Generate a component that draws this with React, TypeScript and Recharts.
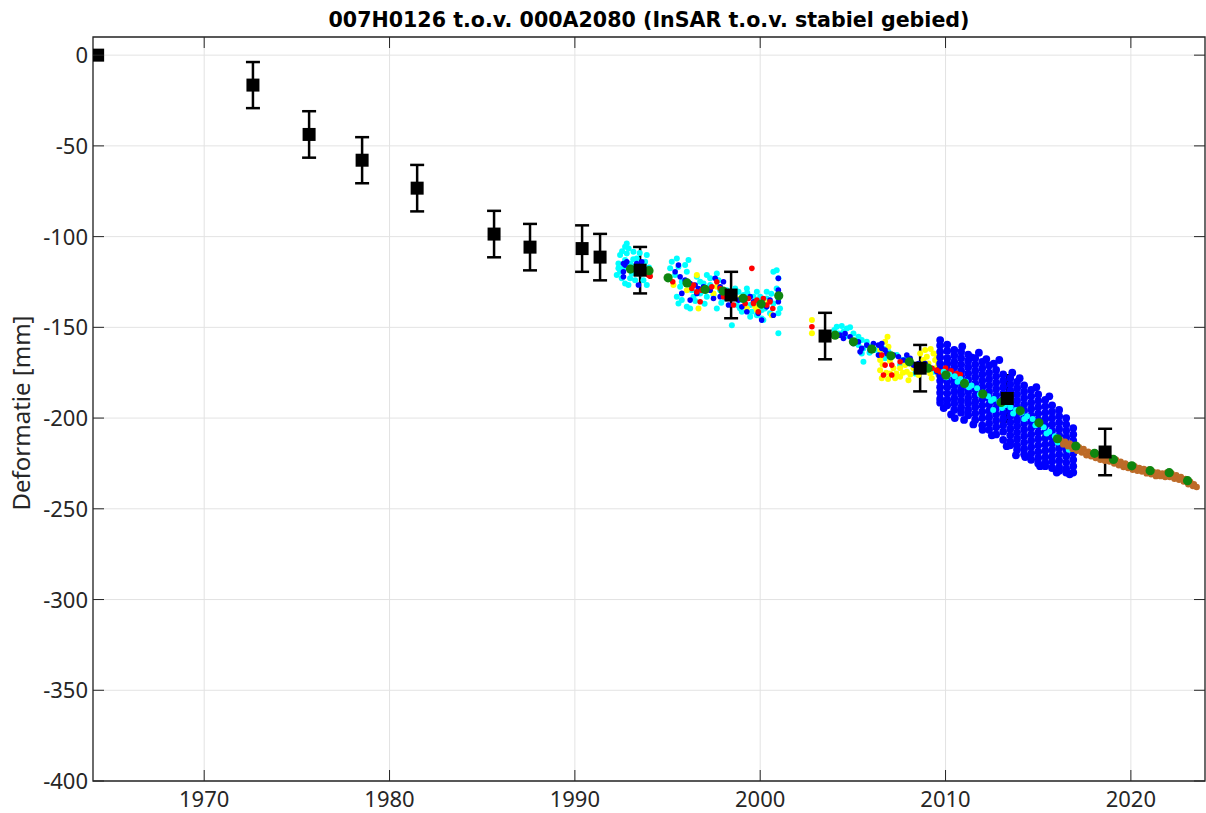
import { ScatterChart, Scatter, XAxis, YAxis, CartesianGrid, ErrorBar, ReferenceArea } from 'recharts';

// leveling (waterpassing) measurements
const levelYears = [1964.25, 1972.63, 1975.66, 1978.52, 1981.49, 1985.64, 1987.58, 1990.39, 1991.36, 1993.52, 1998.43, 2003.5, 2008.63, 2013.33, 2018.61];
const levelMm = [0, -16.5, -43.7, -57.9, -73.3, -98.6, -105.8, -106.6, -111.3, -118.5, -132.2, -154.8, -172.5, -189.2, -218.7];
const levelErr = [0, 12.7, 12.8, 12.7, 12.8, 12.8, 12.8, 12.8, 12.8, 12.8, 12.8, 12.8, 12.8, 12.8, 12.8];

// yearly InSAR averages
const greenYears = [1993.0, 1994.0, 1995.03, 1996.05, 1997.03, 1998.0, 1999.08, 2000.05, 2001.0, 2004.04, 2005.03, 2006.02, 2007.05, 2008.05, 2009.05, 2010.02, 2011.02, 2012.01, 2013.0, 2014.03, 2015.04, 2016.04, 2017.03, 2018.04, 2019.06, 2020.05, 2021.04, 2022.07, 2023.06];
const greenMm = [-117.9, -118.8, -122.7, -125.5, -129.1, -130.0, -134.0, -137.2, -132.6, -154.3, -158.0, -162.0, -165.7, -169.0, -172.5, -176.3, -180.9, -186.8, -191.4, -196.0, -202.6, -211.4, -215.4, -219.4, -222.8, -226.3, -229.0, -230.1, -234.5];

const cyanEarly: [number, number][] = [
  [1992.71, -105.6], [1992.44, -110.2], [1992.8, -109.3], [1993.16, -108.4], [1992.35, -114.8], [1992.71, -112.9],
  [1992.44, -119.4], [1992.53, -123.0], [1992.71, -125.8], [1992.98, -123.0], [1992.89, -126.7], [1993.25, -124.0],
  [1993.61, -120.3], [1993.79, -113.9], [1993.88, -126.7], [1993.88, -110.2], [1993.34, -112.0], [1992.62, -117.5],
  [1993.07, -120.3], [1992.26, -121.2], [1993.7, -124.0], [1993.0, -115.0], [1992.9, -106.5], [1993.5, -109.0],
  [1994.0, -117.0], [1992.55, -108.0], [1992.8, -103.8], [1993.15, -112.5], [1992.35, -117.5], [1993.2, -116.5],
  [1995.23, -113.9], [1995.5, -112.0], [1995.59, -116.6], [1996.13, -112.9], [1996.04, -119.4], [1995.41, -121.2],
  [1995.77, -124.9], [1996.22, -126.7], [1996.58, -122.1], [1997.12, -121.2], [1996.94, -125.8], [1997.3, -123.0],
  [1997.66, -120.3], [1997.75, -124.0], [1997.84, -129.5], [1997.48, -132.2], [1997.12, -133.1], [1996.76, -131.3],
  [1996.31, -129.5], [1996.4, -133.1], [1995.77, -135.0], [1995.59, -136.8], [1996.04, -138.7], [1996.22, -139.6],
  [1997.66, -139.6], [1998.11, -134.1], [1998.65, -128.6], [1998.83, -130.4], [1999.01, -135.0], [1999.28, -128.6],
  [1999.46, -137.7], [1999.82, -130.4], [1999.9, -135.9], [2000.35, -130.4], [2000.26, -139.6], [2000.53, -142.3],
  [2000.71, -119.4], [2000.89, -118.5], [2000.98, -123.0], [2000.89, -128.6], [2000.98, -134.1], [2000.98, -142.3],
  [2001.07, -139.6], [2000.17, -146.0], [2000.08, -145.1], [1998.47, -148.8], [2000.98, -153.3], [1999.46, -144.2],
  [1999.82, -143.3], [1999.01, -141.4], [1996.76, -124.9], [1997.3, -126.7], [1998.2, -129.5], [1998.38, -132.2],
  [1998.74, -137.7], [1999.1, -132.2], [1999.64, -133.1], [2000.0, -133.1], [2000.35, -134.1], [2000.71, -136.8],
  [2000.08, -140.5], [1999.55, -141.4], [1995.95, -115.7], [1995.14, -117.5], [1995.68, -127.6], [1995.5, -133.1],
  [1996.5, -135.5], [1997.0, -137.0], [1997.9, -136.5], [1998.9, -139.5], [1999.3, -131.0], [2000.6, -131.5],
  [2004.13, -149.7], [2004.4, -149.3], [2004.67, -150.6], [2004.85, -150.0], [2004.49, -152.4], [2004.22, -153.4],
  [2005.03, -153.4], [2005.3, -155.2], [2005.48, -157.0], [2005.75, -157.9], [2005.3, -159.8], [2005.57, -161.6],
  [2005.48, -164.4], [2005.57, -169.0], [2005.93, -160.7], [2006.2, -162.5], [2006.47, -164.4], [2006.65, -161.6],
  [2006.92, -163.5], [2007.1, -166.2], [2007.37, -165.3], [2007.64, -168.0], [2007.91, -167.1], [2008.18, -169.9],
  [2008.45, -170.8], [2008.36, -175.4], [2008.99, -171.7], [2009.35, -174.5], [2009.71, -172.6], [2009.89, -175.4],
  [2007.55, -170.8], [2006.74, -167.1], [2004.0, -151.5], [2004.6, -155.0], [2005.15, -157.5], [2005.9, -164.0],
];

const yellowPts: [number, number][] = [
  [1995.32, -126.7], [1996.04, -129.5], [1996.58, -121.2], [1996.67, -139.6], [1997.48, -131.3], [1997.66, -127.6],
  [1998.92, -134.1], [1999.28, -139.6], [1999.73, -138.7], [2000.08, -136.8], [2000.62, -143.3], [1999.82, -140.5],
  [2000.44, -135.9], [2002.79, -146.0], [2002.79, -153.3],
  [2006.47, -162.5], [2006.47, -168.0], [2006.47, -173.6], [2006.56, -178.1], [2006.74, -157.9], [2006.87, -155.2],
  [2006.92, -160.7], [2007.01, -175.4], [2007.19, -172.6], [2007.28, -178.1], [2007.55, -172.6], [2007.55, -177.2],
  [2007.82, -170.8], [2007.91, -174.5], [2008.0, -179.1], [2008.27, -172.6], [2008.54, -176.3], [2008.99, -166.2],
  [2009.08, -169.9], [2009.17, -175.4], [2009.35, -164.4], [2009.44, -168.0], [2009.44, -172.6], [2009.26, -178.1],
  [2008.81, -168.0], [2008.63, -164.4], [2008.9, -162.5], [2006.6, -170.5], [2006.8, -175.0], [2007.0, -168.5],
  [2009.55, -166.0], [2009.6, -176.0], [2006.5, -165.5], [2006.9, -178.5], [2007.35, -175.5], [2007.7, -175.0],
  [2008.1, -176.0], [2008.75, -173.0], [2009.2, -162.0], [2009.6, -170.0],
];

const blueEarly: [number, number][] = [
  [1992.71, -115.7], [1992.62, -119.4], [1992.62, -122.1], [1992.8, -113.9], [1993.34, -114.8], [1993.43, -126.7],
  [1993.61, -113.9], [1992.62, -114.8],
  [1995.59, -115.7], [1995.41, -119.4], [1995.68, -122.1], [1995.95, -124.0], [1996.49, -126.7], [1996.22, -125.8],
  [1996.67, -128.6], [1996.58, -131.3], [1995.77, -131.3], [1996.22, -135.0], [1996.94, -127.6], [1997.3, -129.5],
  [1997.57, -123.0], [1997.84, -127.6], [1998.02, -124.9], [1997.48, -134.1], [1998.2, -134.1], [1998.29, -137.7],
  [1998.83, -135.0], [1999.01, -138.7], [1999.28, -141.4], [1999.46, -133.1], [1999.64, -135.9], [1999.9, -142.3],
  [2000.08, -146.0], [2000.35, -138.7], [2000.53, -135.0], [2000.71, -143.3], [2000.98, -129.5], [2000.98, -135.9],
  [2000.98, -123.0], [1997.84, -133.1],
  [2004.31, -154.3], [2004.58, -153.4], [2004.85, -155.2], [2004.49, -156.1], [2005.03, -158.9], [2005.3, -157.9],
  [2005.48, -161.6], [2005.75, -159.8], [2005.93, -162.5], [2006.11, -158.9], [2006.38, -159.8], [2006.56, -161.6],
  [2006.74, -162.5], [2006.38, -165.3], [2006.56, -158.9], [2006.83, -164.4], [2007.19, -165.3], [2007.46, -166.2],
  [2007.73, -168.0], [2007.91, -165.3], [2008.09, -167.1], [2008.27, -170.8], [2008.54, -169.9], [2008.9, -169.9],
  [2009.26, -172.6], [2009.53, -174.5], [2005.39, -163.5],
];

// dense Sentinel-era blue cloud, read column by column
const blueLateCols: [number, number[]][] = [
  [2009.71, [-157, -160, -163.5, -166.5, -170, -173, -176.5, -179.5, -183, -186, -189.5, -191.5]],
  [2010.09, [-159.5, -163, -167, -170, -173.5, -177, -180, -183, -186.5, -190, -193]],
  [2010.47, [-162.5, -165.5, -169, -172, -175.5, -179, -182, -185.5, -189, -192, -195.5]],
  [2010.84, [-163.5, -167, -170.5, -174, -177, -180.5, -184, -187, -190.5, -194, -197]],
  [2011.22, [-165, -168.5, -172, -175.5, -179, -182, -185.5, -189, -192, -195.5, -198.5]],
  [2011.6, [-167, -170.5, -174, -177.5, -181, -184, -187.5, -191, -194, -197.5, -201]],
  [2011.98, [-169, -172.5, -176, -179.5, -183, -186, -189.5, -193, -196.5, -200, -204]],
  [2012.35, [-171, -175, -178.5, -182, -185.5, -189, -192.5, -196, -199.5, -203, -206.5]],
  [2012.73, [-173.5, -177, -180.5, -184, -187.5, -191, -194.5, -198, -201.5, -205, -209]],
  [2013.11, [-176, -179.5, -183, -186.5, -190, -193.5, -197, -200.5, -204, -207.5, -212]],
  [2013.49, [-178, -181.5, -185, -188.5, -192, -195.5, -199, -202.5, -206, -209.5, -213, -215]],
  [2013.86, [-180, -183.5, -187, -190.5, -194, -197.5, -201, -204.5, -208, -211.5, -215, -217.5]],
  [2014.24, [-182, -185.5, -189, -192.5, -196, -199.5, -203, -206.5, -210, -213.5, -217, -220]],
  [2014.62, [-184.5, -188, -191.5, -195, -198.5, -202, -205.5, -209, -212.5, -216, -219.5, -223]],
  [2015.0, [-187, -190.5, -194, -197.5, -201, -204.5, -208, -211.5, -215, -218.5, -222, -225]],
  [2015.38, [-190, -193.5, -197, -200.5, -204, -207.5, -211, -214.5, -218, -221.5, -224.5, -226.5]],
  [2015.75, [-193, -196.5, -200, -203.5, -207, -210.5, -214, -217.5, -221, -224, -227.5]],
  [2016.13, [-195.5, -199, -202.5, -206, -209.5, -213, -216.5, -220, -223.5, -227, -229]],
  [2016.51, [-200, -203.5, -207, -210.5, -214, -217.5, -221, -224.5, -228, -230]],
  [2016.89, [-205.5, -209, -212.5, -216, -219.5, -223, -226.5, -230]],
];
const blueLateExtra: [number, number][] = [
  [2010.5, -200], [2010.3, -198], [2011.4, -166.5], [2012.2, -167.5], [2012.9, -168], [2013.6, -175],
  [2011.0, -201], [2012.0, -206.5], [2013.3, -215.5], [2014.3, -221.5], [2015.1, -226.5], [2016.0, -230],
  [2010.9, -160.5], [2011.8, -164], [2012.6, -170], [2014.0, -178], [2014.9, -183], [2015.6, -188],
  [2009.9, -194.5], [2011.5, -203.5], [2012.5, -209.5], [2013.8, -220.5], [2016.7, -231],
];

const redPts: [number, number][] = [
  [1993.97, -121.2], [1994.06, -121.8],
  [1995.28, -124.9], [1996.31, -128.6], [1996.4, -126.7], [1996.58, -130.4], [1996.76, -135.9], [1997.39, -127.6],
  [1997.66, -124.9], [1997.84, -128.6], [1998.02, -133.1], [1999.19, -136.8], [1999.37, -134.1], [1999.64, -136.8],
  [1999.82, -135.0], [2000.17, -134.1], [2000.53, -135.9], [2000.68, -139.6], [2000.35, -137.7], [1999.55, -117.5],
  [1996.85, -129.5], [1998.56, -137.7], [1999.9, -141.4],
  [2002.79, -149.7],
  [2006.56, -165.3], [2006.74, -170.8], [2006.65, -176.3], [2007.1, -170.8], [2007.1, -176.3], [2007.55, -169.0],
  [2009.26, -172.6], [2009.53, -173.6], [2009.71, -174.5], [2010.0, -172.5], [2010.3, -174.0], [2010.6, -175.5], [2010.8, -176.0],
];

const cyanLate: [number, number][] = [
  [2009.9, -174.5], [2010.2, -176], [2010.5, -177], [2010.8, -178.5], [2011.1, -180], [2011.4, -182], [2011.7, -183.5],
  [2012.0, -186], [2012.3, -188], [2012.6, -189.5], [2012.9, -191], [2013.2, -193], [2013.5, -194], [2013.8, -195.5],
  [2014.1, -197], [2014.4, -199], [2014.7, -200.5], [2015.0, -203], [2015.3, -205], [2015.6, -207.5], [2015.9, -210],
  [2016.2, -212], [2016.5, -214], [2016.8, -216],
  [2010.05, -177.5], [2010.65, -180], [2011.25, -183], [2011.85, -187], [2012.45, -190.5], [2013.05, -194.5],
  [2013.65, -197.5], [2014.25, -200.5], [2014.85, -204], [2015.45, -208.5], [2016.05, -213.5], [2016.65, -217.5],
  [2012.57, -195.6],
];

const brownPts: [number, number][] = [
  [2016.2, -212], [2016.45, -213], [2016.7, -214], [2016.95, -215], [2017.2, -216], [2017.45, -217], [2017.7, -218.5],
  [2017.95, -219.5], [2018.2, -220], [2018.45, -220.5], [2018.7, -221.5], [2018.95, -222], [2019.2, -223], [2019.45, -224],
  [2019.7, -225], [2019.95, -226], [2020.2, -226.5], [2020.45, -227.5], [2020.7, -228], [2020.95, -228.5], [2021.2, -229.5],
  [2021.45, -230], [2021.7, -230.5], [2021.95, -230], [2022.2, -230.5], [2022.45, -231.5], [2022.7, -232.5],
  [2022.95, -233.5], [2023.2, -235], [2023.4, -236.5], [2023.55, -238],
  [2016.35, -214.5], [2016.6, -215.5], [2016.85, -217], [2017.1, -218], [2017.35, -219], [2017.6, -220.5],
  [2017.85, -221], [2018.1, -222], [2018.35, -223], [2018.6, -223.5], [2018.85, -224], [2019.1, -225], [2019.35, -226],
  [2019.6, -227], [2019.85, -227.5], [2020.1, -228.5], [2020.35, -229], [2020.6, -229.5], [2020.85, -230.5],
  [2021.1, -231], [2021.35, -232], [2021.6, -232], [2021.85, -232.5], [2022.1, -232.5], [2022.35, -233.5],
  [2022.6, -234], [2022.85, -235], [2023.1, -236.5], [2023.35, -237.5],
];

const xTicks = [1970, 1980, 1990, 2000, 2010, 2020];
const yTicks = [-400, -350, -300, -250, -200, -150, -100, -50, 0];

const AXIS = '#262626';
const PLOT = { left: 93, right: 1205, top: 37, bottom: 781 };
const TICK_LEN = 11;
const FONT = '"Noto Sans", sans-serif';

const toXY = (pts: [number, number][]) => pts.map(([x, y]) => ({ x, y }));
const levelData = levelYears.map((x, i) => ({ x, y: levelMm[i], err: levelErr[i] }));
const greenData = greenYears.map((x, i) => ({ x, y: greenMm[i] }));
const blueLateData = [
  ...blueLateCols.flatMap(([x, ys]) => ys.map((y) => ({ x, y }))),
  ...toXY(blueLateExtra),
];

const dot = (r: number, fill: string) => (p: any) => <circle cx={p.cx} cy={p.cy} r={r} fill={fill} />;
const square = (p: any) => <rect x={p.cx - 6.5} y={p.cy - 6.5} width={13} height={13} fill="#000" />;

const XTick = (p: any) => (
  <g>
    <line x1={p.x} x2={p.x} y1={PLOT.bottom} y2={PLOT.bottom - TICK_LEN} stroke={AXIS} />
    <line x1={p.x} x2={p.x} y1={PLOT.top} y2={PLOT.top + TICK_LEN} stroke={AXIS} />
    <text x={p.x} y={807} textAnchor="middle" fill={AXIS} fontSize={22} fontFamily={FONT}>
      {p.payload.value}
    </text>
  </g>
);

const YTick = (p: any) => (
  <g>
    <line x1={PLOT.left} x2={PLOT.left + TICK_LEN} y1={p.y} y2={p.y} stroke={AXIS} />
    <line x1={PLOT.right} x2={PLOT.right - TICK_LEN} y1={p.y} y2={p.y} stroke={AXIS} />
    <text x={88} y={p.y + 8} textAnchor="end" fill={AXIS} fontSize={22} fontFamily={FONT}>
      {p.payload.value}
    </text>
  </g>
);

export default function App() {
  return (
    <div style={{ position: 'absolute', left: 0, top: 0, width: 1206, height: 813, background: '#fff' }}>
      <ScatterChart width={1206} height={813} margin={{ top: 37, right: 1, bottom: 0, left: 0 }}>
        <CartesianGrid stroke="#e3e3e3" strokeWidth={1} />
        <XAxis
          type="number"
          dataKey="x"
          domain={[1964, 2024]}
          ticks={xTicks}
          interval={0}
          height={32}
          allowDataOverflow
          axisLine={false}
          tickLine={false}
          tick={XTick}
        />
        <YAxis
          type="number"
          dataKey="y"
          domain={[-400, 10]}
          ticks={yTicks}
          interval={0}
          width={93}
          allowDataOverflow
          axisLine={false}
          tickLine={false}
          tick={YTick}
        />
        <ReferenceArea x1={1964} x2={2024} y1={-400} y2={10} fill="none" fillOpacity={0} stroke={AXIS} strokeWidth={1.3} />
        <Scatter data={toXY(cyanEarly)} shape={dot(3, '#00ffff')} isAnimationActive={false} />
        <Scatter data={toXY(yellowPts)} shape={dot(3, '#ffff00')} isAnimationActive={false} />
        <Scatter data={toXY(blueEarly)} shape={dot(2.8, '#0000ff')} isAnimationActive={false} />
        <Scatter data={blueLateData} shape={dot(3.9, '#0000ff')} isAnimationActive={false} />
        <Scatter data={toXY(redPts)} shape={dot(2.8, '#ff0000')} isAnimationActive={false} />
        <Scatter data={toXY(cyanLate)} shape={dot(3, '#00ffff')} isAnimationActive={false} />
        <Scatter data={toXY(brownPts)} shape={dot(3.2, '#bd6b28')} isAnimationActive={false} />
        <Scatter data={greenData} shape={dot(4.6, '#0f850f')} isAnimationActive={false} />
        <Scatter data={levelData} shape={square} isAnimationActive={false}>
          <ErrorBar dataKey="err" direction="y" width={7} strokeWidth={2.5} stroke="#000" isAnimationActive={false} />
        </Scatter>
      </ScatterChart>
      <svg width={1206} height={813} style={{ position: 'absolute', left: 0, top: 0, pointerEvents: 'none' }}>
        <text x={649} y={27} textAnchor="middle" fontSize={20.6} fontWeight="bold" fontFamily='"DejaVu Sans", sans-serif' fill="#000">
          007H0126 t.o.v. 000A2080 (InSAR t.o.v. stabiel gebied)
        </text>
        <text
          x={30}
          y={413}
          transform="rotate(-90 30 413)"
          textAnchor="middle"
          fontSize={24}
          fontFamily={FONT}
          fill={AXIS}
        >
          Deformatie [mm]
        </text>
      </svg>
    </div>
  );
}
